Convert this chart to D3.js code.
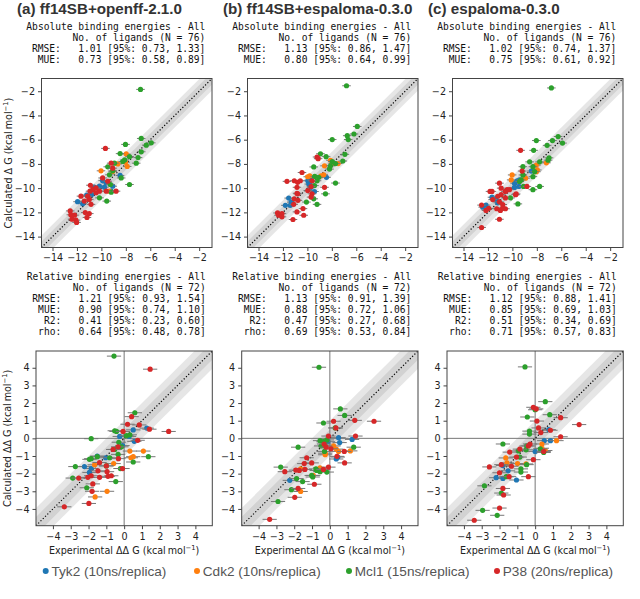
<!DOCTYPE html>
<html lang="en">
<head>
<meta charset="UTF-8">
<title>Absolute and relative binding energies</title>
<script src="https://d3js.org/d3.v7.min.js"></script>
<style>
  body { margin: 0; background: #fff; }
  svg { display: block; }
  .tick text { font-family: "DejaVu Sans", sans-serif; font-size: 9.6px; fill: #222; }
  .tick line { stroke: #444; }
  .stats { font-family: "DejaVu Sans Mono", monospace; font-size: 9.6px; fill: #111; white-space: pre; }
  .title { font-family: "Liberation Sans", Arial, sans-serif; font-weight: bold; font-size: 15.2px; fill: #333; }
  .axlabel { font-family: "DejaVu Sans", sans-serif; font-size: 9.6px; fill: #222; }
  .legend text { font-family: "Liberation Sans", Arial, sans-serif; font-size: 13.6px; fill: #555; }
</style>
</head>
<body>
<svg id="chart" width="640" height="599"></svg>
<script>
// ---- data ----
const targets = ["Tyk2", "Cdk2", "Mcl1", "P38"];
const targetColors = ["#1f77b4", "#ff7f0e", "#2ca02c", "#d62728"];
const legendLabels = ["Tyk2 (10ns/replica)", "Cdk2 (10ns/replica)", "Mcl1 (15ns/replica)", "P38 (20ns/replica)"];
const panelTitles = ["(a) ff14SB+openff-2.1.0", "(b) ff14SB+espaloma-0.3.0", "(c) espaloma-0.3.0"];

const absTicks = [-14, -12, -10, -8, -6, -4, -2];
const relTicks = [-4, -3, -2, -1, 0, 1, 2, 3, 4];
const absDomain = [-14.9, -0.95];
const relDomain = [-4.95, 4.95];

const absN = 76, relN = 72;
const absRMSE = [[1.01, 0.73, 1.33], [1.13, 0.86, 1.47], [1.02, 0.74, 1.37]];
const absMUE = [[0.73, 0.58, 0.89], [0.80, 0.64, 0.99], [0.75, 0.61, 0.92]];
const relRMSE = [[1.21, 0.93, 1.54], [1.13, 0.91, 1.39], [1.12, 0.88, 1.41]];
const relMUE = [[0.90, 0.74, 1.10], [0.88, 0.72, 1.06], [0.85, 0.69, 1.03]];
const relR2 = [[0.41, 0.23, 0.60], [0.47, 0.27, 0.68], [0.51, 0.34, 0.69]];
const relRho = [[0.64, 0.48, 0.78], [0.69, 0.53, 0.84], [0.71, 0.57, 0.83]];

// experimental / calculated uncertainty (kcal/mol)
const absErr = [0.35, 0.12];
const relErr = [0.4, 0.12];

// absolute: [experimental dG, calculated dG]
const absA_Tyk2 = [[-9.9,-9.38],[-9.6,-9.57],[-10.16,-9.84],[-9.75,-9.92],[-9.07,-9.84],[-9.2,-10.25],[-8.47,-8.95],[-11.95,-11.12],[-11.2,-10.58],[-10.8,-10.52],[-10.58,-9.92],[-11.53,-11.28]];
const absA_Cdk2 = [[-10.03,-8.57],[-8.66,-8.0],[-8.03,-7.86],[-7.89,-8.21],[-7.97,-7.18],[-9.07,-8.62],[-9.34,-10.25]];
const absA_Mcl1 = [[-6.8,-1.85],[-6.74,-5.9],[-5.92,-6.26],[-6.33,-6.45],[-8.03,-6.39],[-8.47,-7.15],[-6.74,-7.0],[-7.7,-7.4],[-7.0,-7.48],[-7.15,-7.94],[-8.1,-7.67],[-8.25,-7.8],[-8.93,-7.94],[-9.48,-8.24],[-9.07,-8.57],[-9.34,-8.9],[-8.38,-9.16],[-9.26,-9.7],[-7.7,-9.7],[-9.2,-10.33],[-10.16,-10.8],[-9.56,-11.07]];
const absA_P38 = [[-9.67,-6.72],[-9.2,-7.94],[-9.07,-8.35],[-9.9,-9.16],[-9.48,-9.43],[-10.9,-9.76],[-10.7,-10.11],[-10.44,-10.38],[-10.16,-10.25],[-10.93,-10.25],[-11.12,-10.66],[-11.67,-10.66],[-10.99,-10.93],[-10.85,-11.34],[-11.4,-11.07],[-10.44,-9.98],[-9.6,-10.25],[-8.8,-10.25],[-11.32,-12.02],[-10.99,-12.1],[-11.18,-12.42],[-12.55,-11.88],[-12.5,-12.2],[-12.4,-12.56],[-12.08,-12.64],[-12.03,-12.83],[-12.2,-12.23]];

const absB_Tyk2 = [[-9.75,-9.11],[-9.97,-9.39],[-9.89,-9.66],[-9.7,-9.93],[-8.44,-9.11],[-9.42,-10.28],[-11.53,-10.82],[-11.8,-11.42],[-11.4,-11.42],[-11.32,-11.15]];
const absB_Cdk2 = [[-8.11,-7.7],[-7.92,-7.97],[-8.6,-8.16],[-8.88,-8.98],[-9.81,-8.98],[-9.97,-9.06],[-8.66,-8.9],[-7.48,-7.97]];
const absB_Mcl1 = [[-6.8,-1.55],[-5.92,-4.91],[-6.19,-5.53],[-6.74,-5.67],[-6.66,-5.99],[-7.97,-5.99],[-8.93,-7.16],[-8.47,-7.4],[-6.93,-7.21],[-7.1,-7.76],[-7.97,-7.81],[-7.7,-7.97],[-8.11,-8.16],[-8.19,-8.43],[-9.48,-8.25],[-9.4,-9.03],[-9.07,-9.11],[-9.21,-9.39],[-7.7,-9.58],[-9.42,-9.79],[-8.52,-10.47],[-10.08,-11.15],[-9.21,-11.34],[-9.48,-10.88]];
const absB_P38 = [[-9.21,-7.43],[-9.12,-7.57],[-10.44,-8.71],[-11.67,-9.44],[-11.07,-9.39],[-10.8,-9.52],[-10.58,-9.39],[-10.85,-9.93],[-9.62,-9.39],[-9.7,-9.87],[-9.97,-10.2],[-10.85,-10.42],[-10.8,-10.47],[-9.62,-10.47],[-8.6,-9.93],[-9.7,-10.74],[-11.07,-10.88],[-10.77,-11.01],[-11.12,-11.34],[-10.85,-11.96],[-10.36,-11.69],[-10.3,-12.24],[-11.18,-12.59],[-12.44,-12.05],[-12.36,-12.24],[-12.08,-12.1],[-12.08,-12.37]];

const absC_Tyk2 = [[-8.45,-8.59],[-9.61,-9.4],[-9.83,-9.94],[-9.47,-9.86],[-9.41,-9.32],[-9.83,-9.59],[-11.67,-10.75],[-11.34,-10.94],[-11.2,-11.21],[-12.16,-11.4],[-12.43,-11.57]];
const absC_Cdk2 = [[-8.04,-8.1],[-7.96,-8.5],[-8.04,-8.64],[-7.22,-7.91],[-8.92,-9.18],[-10.02,-8.91],[-10.1,-9.32]];
const absC_Mcl1 = [[-6.81,-1.73],[-6.26,-5.74],[-6.72,-6.07],[-5.9,-6.28],[-7.16,-6.47],[-8.04,-6.07],[-8.26,-6.88],[-7.0,-7.5],[-7.08,-7.69],[-7.77,-7.83],[-8.59,-7.83],[-8.32,-8.23],[-9.14,-8.23],[-8.18,-8.64],[-8.32,-9.05],[-9.14,-8.91],[-9.28,-9.32],[-9.41,-9.45],[-7.77,-9.86],[-9.09,-9.86],[-8.32,-10.13],[-10.16,-10.81],[-9.55,-11.3]];
const absC_P38 = [[-9.33,-6.88],[-9.2,-8.59],[-11.06,-9.59],[-10.92,-10.0],[-10.43,-10.13],[-10.57,-10.27],[-10.24,-10.13],[-9.74,-10.54],[-10.92,-10.54],[-11.67,-10.27],[-11.2,-10.67],[-10.57,-10.81],[-11.61,-10.94],[-11.06,-11.13],[-10.79,-11.35],[-10.57,-11.7],[-11.28,-11.7],[-10.98,-11.84],[-10.79,-11.62],[-11.94,-11.67],[-12.16,-11.84],[-12.52,-11.4],[-11.06,-12.57],[-12.52,-13.25],[-9.69,-10.48],[-8.81,-9.86],[-11.83,-10.27]];

// relative: [experimental ddG, calculated ddG]
const relA_Tyk2 = [[0.28,0.11],[-0.25,0.11],[0.51,0.48],[1.27,0.58],[0.57,-0.17],[-0.09,-0.41],[-1.04,-1.1],[-2.23,-1.6],[-1.85,-1.71],[-1.51,-1.0],[-1.95,-1.93]];
const relA_Cdk2 = [[0.32,-0.72],[1.08,-0.72],[0.38,-1.1],[0.51,-1.04],[-0.59,-1.43],[-1.66,-1.5],[-0.96,-3.0],[-1.63,-3.32]];
const relA_Mcl1 = [[-0.57,4.66],[0.6,1.45],[-0.53,0.43],[-0.43,0.39],[0.13,0.15],[0.32,0.2],[-0.3,-0.22],[-1.85,-0.02],[-0.15,-0.48],[-0.53,-0.63],[-0.34,-0.91],[-0.81,-1.1],[-1.0,-1.56],[-1.51,-1.04],[-1.95,-1.19],[-1.85,-1.15],[-2.74,-1.6],[-2.89,-2.25],[-2.1,-2.8],[-0.47,-2.45],[-0.21,-1.71],[0.51,-1.34],[1.36,-1.04]];
const relA_P38 = [[1.46,3.92],[0.42,1.23],[0.19,0.8],[0.85,0.76],[-0.06,0.39],[1.42,0.52],[2.5,0.39],[0.76,-0.11],[-0.34,-0.48],[-0.62,-0.63],[-0.32,-1.15],[-0.09,-1.71],[-1.0,-1.56],[-0.96,-1.89],[-1.38,-1.37],[-1.47,-1.84],[-1.85,-2.12],[-2.04,-2.21],[-2.55,-2.25],[-1.38,-2.21],[-0.91,-2.15],[-1.76,-2.58],[-1.8,-3.0],[-1.98,-3.69],[-3.36,-3.88],[-0.72,-2.12]];

const relB_Tyk2 = [[-0.11,-0.19],[0.49,0.04],[1.25,-0.06],[0.55,-0.24],[0.36,-1.17],[0.45,-1.06],[-2.25,-2.38]];
const relB_Cdk2 = [[0.21,-0.43],[0.36,-0.61],[0.49,-0.74],[-0.26,-0.93],[1.15,-0.71],[-1.64,-1.73],[-0.55,-1.67],[-0.93,-2.1],[-1.64,-3.01],[-0.26,-0.84]];
const relB_Mcl1 = [[-0.61,4.03],[0.59,1.67],[0.83,1.3],[-0.36,0.87],[0.3,0.59],[-1.78,-0.5],[-0.55,-0.13],[-0.36,-0.19],[-0.26,-0.43],[-0.49,-0.43],[-0.17,-0.09],[-0.3,-0.74],[1.34,-0.5],[-2.76,-1.63],[-0.78,-1.73],[-0.74,-1.82],[-0.55,-1.89],[-0.17,-1.91],[-1.02,-2.1],[-0.96,-2.19],[-1.87,-2.28],[-1.53,-2.45],[-2.16,-2.91],[-2.91,-3.58]];
const relB_P38 = [[0.21,0.97],[1.4,1.02],[2.48,0.97],[0.34,0.59],[-0.08,0.13],[1.44,0.13],[-0.32,-0.32],[-0.21,-0.5],[0.06,-0.59],[0.81,-0.74],[0.4,-1.02],[0.83,-1.39],[-1.3,-1.1],[-1.44,-1.43],[-1.02,-1.39],[-1.91,-1.8],[-2.53,-1.89],[-1.4,-1.76],[-1.72,-1.82],[-0.08,-1.63],[-0.36,-1.76],[-0.87,-2.6],[-1.78,-2.84],[-1.97,-3.34],[-3.38,-4.59]];

const relC_Tyk2 = [[0.76,0.5],[0.51,-0.13],[0.86,-0.13],[0,-0.74],[-1.81,-1.54],[-1.52,-1.84],[-2.19,-2.23],[-1.81,-2.27],[-1.05,-2.36]];
const relC_Cdk2 = [[0.38,-0.32],[0.38,-0.56],[0.57,-0.69],[1.2,-0.13],[-1.65,-1.11],[-1.58,-1.39],[-0.99,-1.43],[-0.51,-1.45]];
const relC_Mcl1 = [[-0.57,4.05],[0.57,2.08],[0.82,1.34],[-0.44,1.21],[0,1.62],[-0.32,0.41],[-0.32,0.24],[-1.81,-0.32],[-0.48,-0.43],[-0.51,-0.65],[-0.95,-0.71],[0.48,-0.8],[0.29,-0.59],[-0.86,-1.06],[-0.48,-1.49],[-0.8,-1.73],[-0.8,-1.91],[-1.62,-2.17],[-2.85,-2.69],[-1.9,-3.1],[-2.95,-4.08],[-2.13,-4.36]];
const relC_P38 = [[-0.1,1.76],[0.06,1.67],[0.1,0.98],[0.19,0.59],[0.32,0.33],[0.86,0.46],[1.43,1.17],[2.47,0.78],[1.43,0.09],[-0.29,-0.32],[-0.38,-0.43],[-0.86,-0.61],[-1.43,-0.78],[-1.05,-1.06],[-0.1,-1.21],[0.48,-0.74],[-2.57,-1.62],[-1.9,-1.49],[-1.33,-1.58],[-2.0,-1.95],[-1.46,-2.17],[-0.38,-2.17],[-1.81,-2.84],[-1.77,-3.21],[-2.0,-3.95],[-3.42,-4.64]];

const absSeries = [
  [absA_Tyk2, absA_Cdk2, absA_Mcl1, absA_P38],
  [absB_Tyk2, absB_Cdk2, absB_Mcl1, absB_P38],
  [absC_Tyk2, absC_Cdk2, absC_Mcl1, absC_P38]
];
const relSeries = [
  [relA_Tyk2, relA_Cdk2, relA_Mcl1, relA_P38],
  [relB_Tyk2, relB_Cdk2, relB_Mcl1, relB_P38],
  [relC_Tyk2, relC_Cdk2, relC_Mcl1, relC_P38]
];

// ---- layout ----
const svg = d3.select("#chart");
const topLeft = [41.5, 247.5, 452.5], topY = 78.5, topW = 170.5, topH = 169;
const botLeft = [36, 241.7, 447], botY = 351, botW = 176.3, botH = 174.7;
const fmt2 = d3.format(".2f");
const ci = v => `${fmt2(v[0])} [95%: ${fmt2(v[1])}, ${fmt2(v[2])}]`;

function drawPanel(id, x0, y0, w, h, domain, ticks, series, err, zeroLines) {
  const g = svg.append("g");
  const x = d3.scaleLinear().domain(domain).range([x0, x0 + w]);
  const y = d3.scaleLinear().domain(domain).range([y0 + h, y0]);
  const [lo, hi] = domain;

  svg.append("clipPath").attr("id", id)
    .append("rect").attr("x", x0).attr("y", y0).attr("width", w).attr("height", h);
  const inner = g.append("g").attr("clip-path", `url(#${id})`);

  // 1 and 0.5 kcal/mol guide bands
  [1.0, 0.5].forEach(d => {
    inner.append("path")
      .attr("d", d3.line()([[x(lo), y(lo - d)], [x(hi), y(hi - d)], [x(hi), y(hi + d)], [x(lo), y(lo + d)]]) + "Z")
      .attr("fill", "#808080").attr("fill-opacity", 0.2);
  });

  if (zeroLines) {
    inner.append("line").attr("x1", x(0)).attr("x2", x(0)).attr("y1", y0).attr("y2", y0 + h)
      .attr("stroke", "#777").attr("stroke-width", 1);
    inner.append("line").attr("x1", x0).attr("x2", x0 + w).attr("y1", y(0)).attr("y2", y(0))
      .attr("stroke", "#777").attr("stroke-width", 1);
  }

  inner.append("line")
    .attr("x1", x(lo)).attr("y1", y(lo)).attr("x2", x(hi)).attr("y2", y(hi))
    .attr("stroke", "#000").attr("stroke-width", 1.2).attr("stroke-dasharray", "1.2,2");

  series.forEach((pts, i) => {
    const s = inner.append("g");
    s.selectAll("line.xe").data(pts).enter().append("line")
      .attr("x1", d => x(d[0] - err[0])).attr("x2", d => x(d[0] + err[0]))
      .attr("y1", d => y(d[1])).attr("y2", d => y(d[1]))
      .attr("stroke", "#777").attr("stroke-width", 1);
    s.selectAll("line.ye").data(pts).enter().append("line")
      .attr("x1", d => x(d[0])).attr("x2", d => x(d[0]))
      .attr("y1", d => y(d[1] - err[1])).attr("y2", d => y(d[1] + err[1]))
      .attr("stroke", "#777").attr("stroke-width", 1);
    s.selectAll("circle").data(pts).enter().append("circle")
      .attr("cx", d => x(d[0])).attr("cy", d => y(d[1])).attr("r", 2.6)
      .attr("fill", targetColors[i]);
  });

  g.append("rect").attr("x", x0).attr("y", y0).attr("width", w).attr("height", h)
    .attr("fill", "none").attr("stroke", "#444").attr("stroke-width", 1);

  const ax = g.append("g").attr("transform", `translate(0,${y0 + h})`)
    .call(d3.axisBottom(x).tickValues(ticks).tickSize(3.5).tickPadding(3.5).tickSizeOuter(0).tickFormat(d3.format("d")));
  const ay = g.append("g").attr("transform", `translate(${x0},0)`)
    .call(d3.axisLeft(y).tickValues(ticks).tickSize(3.5).tickPadding(3).tickSizeOuter(0).tickFormat(d3.format("d")));
  ax.select(".domain").remove();
  ay.select(".domain").remove();
  return { x, y };
}

function drawStats(right, top, lines) {
  const cw = 9.6 * 0.602;
  lines.forEach((ln, i) => {
    const yy = top + i * 11.1;
    if (ln.label) {
      svg.append("text").attr("class", "stats").attr("x", right - 25 * cw).attr("y", yy)
        .attr("text-anchor", "end").text(ln.label);
    }
    svg.append("text").attr("class", "stats").attr("x", right).attr("y", yy)
      .attr("text-anchor", "end").text(ln.text);
  });
}

function unitLabel(sel, prefix) {
  sel.append("tspan").text(prefix + " (kcal\u2009mol");
  sel.append("tspan").attr("font-size", "6.8px").attr("dy", -3.8).text("\u22121");
  sel.append("tspan").attr("dy", 3.8).text(")");
}

for (let p = 0; p < 3; p++) {
  // column title
  svg.append("text").attr("class", "title").attr("x", topLeft[p] - 24.5).attr("y", 13.5).text(panelTitles[p]);

  drawPanel("clipA" + p, topLeft[p], topY, topW, topH, absDomain, absTicks, absSeries[p], absErr, false);
  drawStats(topLeft[p] + topW - 6.6, 30, [
    { text: "Absolute binding energies - All" },
    { text: `No. of ligands (N = ${absN})` },
    { label: "RMSE:", text: ci(absRMSE[p]) },
    { label: "MUE:", text: ci(absMUE[p]) }
  ]);

  drawPanel("clipR" + p, botLeft[p], botY, botW, botH, relDomain, relTicks, relSeries[p], relErr, true);
  drawStats(botLeft[p] + botW - 6.6, 279.5, [
    { text: "Relative binding energies - All" },
    { text: `No. of ligands (N = ${relN})` },
    { label: "RMSE:", text: ci(relRMSE[p]) },
    { label: "MUE:", text: ci(relMUE[p]) },
    { label: "R2:", text: ci(relR2[p]) },
    { label: "rho:", text: ci(relRho[p]) }
  ]);

  svg.append("text").attr("class", "axlabel")
    .attr("x", botLeft[p] + botW / 2).attr("y", 553.5).attr("text-anchor", "middle")
    .call(unitLabel, "Experimental \u0394\u0394 G");
}

svg.append("text").attr("class", "axlabel").attr("text-anchor", "middle")
  .attr("transform", `translate(12,${topY + topH / 2}) rotate(-90)`)
  .call(unitLabel, "Calculated \u0394 G");
svg.append("text").attr("class", "axlabel").attr("text-anchor", "middle")
  .attr("transform", `translate(10.5,${botY + botH / 2}) rotate(-90)`)
  .call(unitLabel, "Calculated \u0394\u0394 G");

// legend
const legendX = [45.7, 197, 349, 497];
const legend = svg.append("g").attr("class", "legend");
legendLabels.forEach((lab, i) => {
  legend.append("circle").attr("cx", legendX[i]).attr("cy", 571).attr("r", 3)
    .attr("fill", targetColors[i]);
  legend.append("text").attr("x", legendX[i] + 5.8).attr("y", 575.8).text(lab);
});
</script>
</body>
</html>
